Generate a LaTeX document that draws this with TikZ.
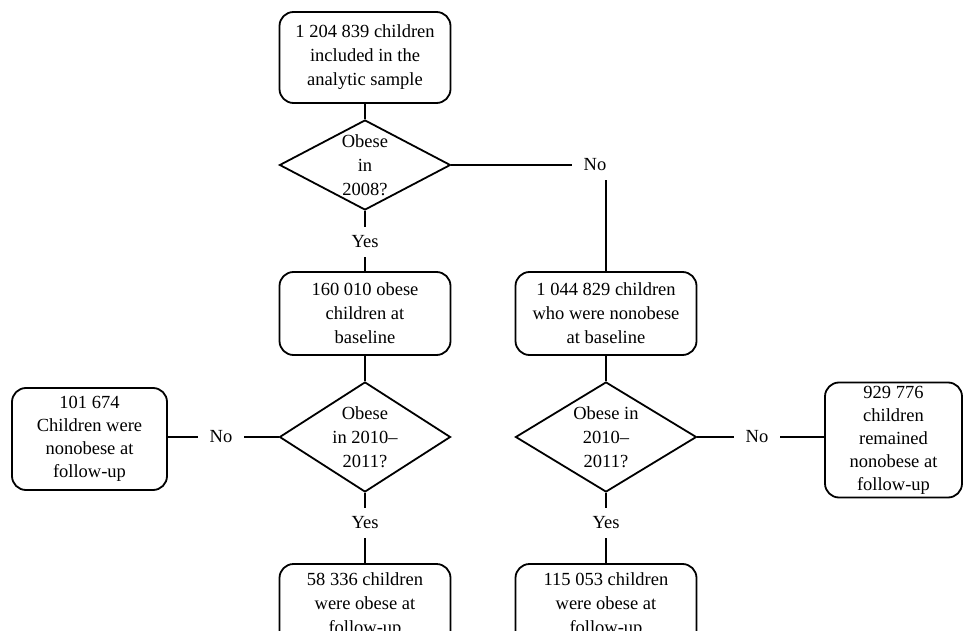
\documentclass[tikz,border=0pt]{standalone}
\usepackage{fontspec}
\setmainfont{Liberation Serif}
\usepackage{tikz}
\usetikzlibrary{shapes.geometric,positioning}

\begin{document}
\begin{tikzpicture}[x=1pt,y=1pt,font=\fontsize{18.5}{24}\selectfont,line width=1.8pt,
    box/.style={draw,rounded corners=14pt,align=center,inner sep=0pt},
    tight/.style={font=\fontsize{18.5}{23}\selectfont},
    dec/.style={draw,diamond,inner sep=0pt},
    dectext/.style={align=center,inner sep=0pt},
    lab/.style={inner xsep=11pt,inner ysep=8pt}]
    \useasboundingbox (0,0) rectangle (963,630);
    \clip (0,0) rectangle (963,630);
    % first split
    \node[box,minimum width=171pt,minimum height=91pt] (sample) at (365,572.5) {1 204 839 children\\included in the\\analytic sample};
    \node[dec,minimum width=171pt,minimum height=90pt] (q1) at (365,465) {};
    \node[dectext] (q1txt) at (q1) {Obese\\in\\2008?};
    \node[lab] (no1) at (595,465) {No};
    \node[lab] (yes1) at (365,388) {Yes};
    \node[box,minimum width=171pt,minimum height=83pt] (obese0) at (365,316.5) {160 010 obese\\children at\\baseline};
    \node[box,minimum width=181pt,minimum height=83pt] (nonob0) at (606,316.5) {1 044 829 children\\who were nonobese\\at baseline};
    % follow-up
    \node[dec,minimum width=171pt,minimum height=110pt] (q2) at (365,193) {};
    \node[dectext] (q2txt) at (q2) {Obese\\in 2010--\\2011?};
    \node[dec,minimum width=181pt,minimum height=110pt] (q3) at (606,193) {};
    \node[dectext] (q3txt) at (q3) {Obese in\\2010--\\2011?};
    \node[lab] (no2) at (221,193) {No};
    \node[lab] (no3) at (757,193) {No};
    \node[box,tight,minimum width=155pt,minimum height=102pt] (stayL) at (89.5,191) {101 674\\Children were\\nonobese at\\follow-up};
    \node[box,tight,minimum width=137pt,minimum height=115pt] (stayR) at (893.5,190) {929 776\\children\\remained\\nonobese at\\follow-up};
    \node[lab] (yes2) at (365,107) {Yes};
    \node[lab] (yes3) at (606,107) {Yes};
    \node[box,minimum width=171pt,minimum height=83pt] (endL) at (365,24.5) {58 336 children\\were obese at\\follow-up};
    \node[box,minimum width=181pt,minimum height=83pt] (endR) at (606,24.5) {115 053 children\\were obese at\\follow-up};

    \draw (sample.south) -- (q1.north);
    \draw (q1.east) -- (no1.west);
    \draw (no1.south -| nonob0.north) -- (nonob0.north);
    \draw (q1.south) -- (yes1.north);
    \draw (yes1.south) -- (obese0.north);
    \draw (obese0.south) -- (q2.north);
    \draw (nonob0.south) -- (q3.north);
    \draw (q2.west) -- (no2.east);
    \draw (no2.west) -- (no2.west -| stayL.east);
    \draw (q3.east) -- (no3.west);
    \draw (no3.east) -- (no3.east -| stayR.west);
    \draw (q2.south) -- (yes2.north);
    \draw (yes2.south) -- (endL.north);
    \draw (q3.south) -- (yes3.north);
    \draw (yes3.south) -- (endR.north);
\end{tikzpicture}
\end{document}
